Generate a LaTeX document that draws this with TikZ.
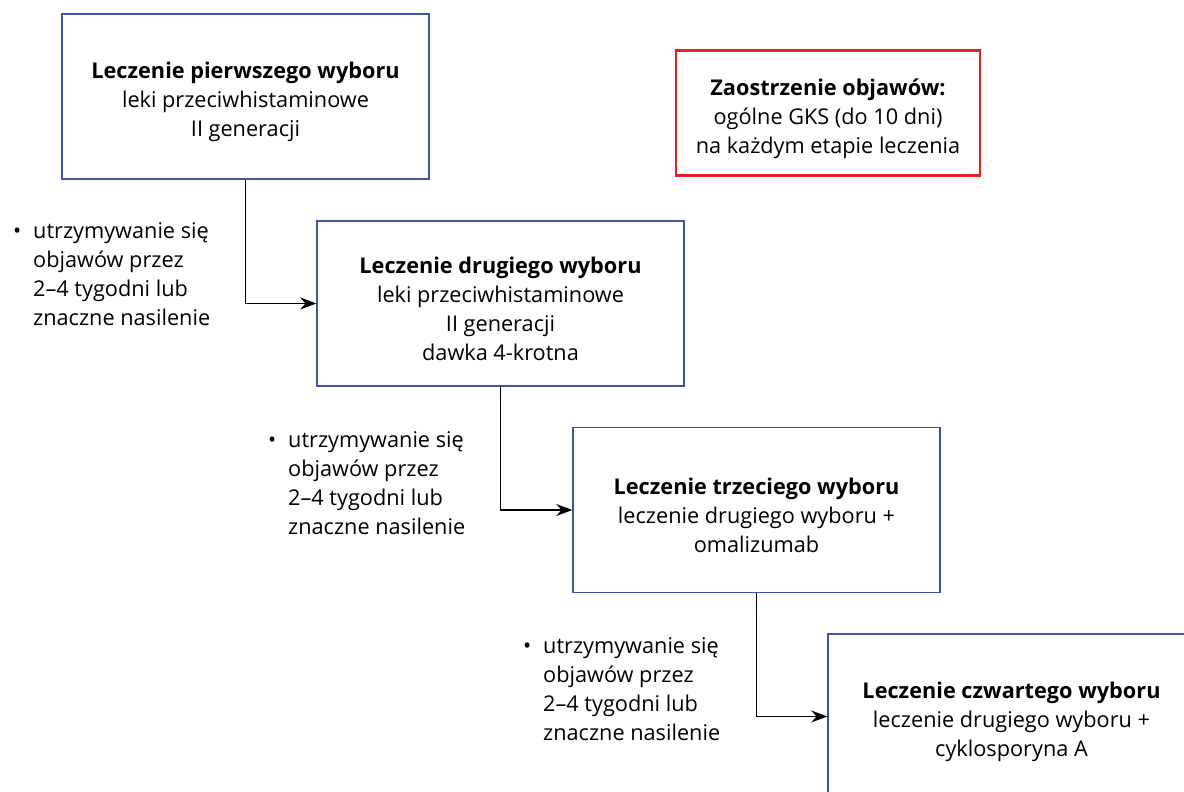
\documentclass[tikz,border=0pt]{standalone}
\usepackage{fontspec}
\setmainfont{Open Sans}
\usetikzlibrary{arrows.meta}

\definecolor{boxblue}{RGB}{64,84,164}
\definecolor{boxred}{RGB}{232,32,40}

% bold first line, with a taller strut so that the text sits a little lower
\newcommand{\head}[1]{\rule{0pt}{28pt}\textbf{#1}}

\newcommand{\notetext}{%
	\begin{tabular}[t]{@{}p{20pt}@{}l@{}}
		\textbullet & utrzymywanie się\\
		& objawów przez\\
		& 2–4 tygodni lub\\
		& znaczne nasilenie
	\end{tabular}}

\begin{document}
\begin{tikzpicture}[x=1pt, y=-1pt,
	font=\fontsize{21.7}{29}\selectfont,
	choice/.style={draw=boxblue, line width=1.5pt, minimum width=367pt, minimum height=165pt, align=center, inner sep=0pt},
	flare/.style={draw=boxred, line width=2.5pt, minimum width=304pt, minimum height=125pt, align=center, inner sep=0pt},
	arr/.style={line width=1.1pt, -{Stealth[length=16pt, width=12pt]}}]
	\clip (0, 0) rectangle (1184, 792);

	\node [choice] (first) at (245.5, 96.5) {\head{Leczenie pierwszego wyboru}\\leki przeciwhistaminowe\\II generacji};
	\node [choice] (second) at (500.5, 303.5) {\head{Leczenie drugiego wyboru}\\leki przeciwhistaminowe\\II generacji\\dawka 4-krotna};
	\node [choice] (third) at (756.5, 510) {\head{Leczenie trzeciego wyboru}\\leczenie drugiego wyboru +\\omalizumab};
	\node [choice] (fourth) at (1011.5, 716.5) {\head{Leczenie czwartego wyboru}\\leczenie drugiego wyboru +\\cyklosporyna A};

	\node [flare] (flare) at (828, 113) {\head{Zaostrzenie objawów:}\\ogólne GKS (do 10 dni)\\na każdym etapie leczenia};

	\foreach \x/\y [count=\i] in {13/238, 268/447, 523/653} {
		\node [anchor=base west, inner sep=0pt] (note\i) at (\x, \y) {\notetext};
	}

	\draw [arr] (first.south) |- (second.west);
	\draw [arr] (second.south) |- (third.west);
	\draw [arr] (third.south) |- (fourth.west);
\end{tikzpicture}
\end{document}
